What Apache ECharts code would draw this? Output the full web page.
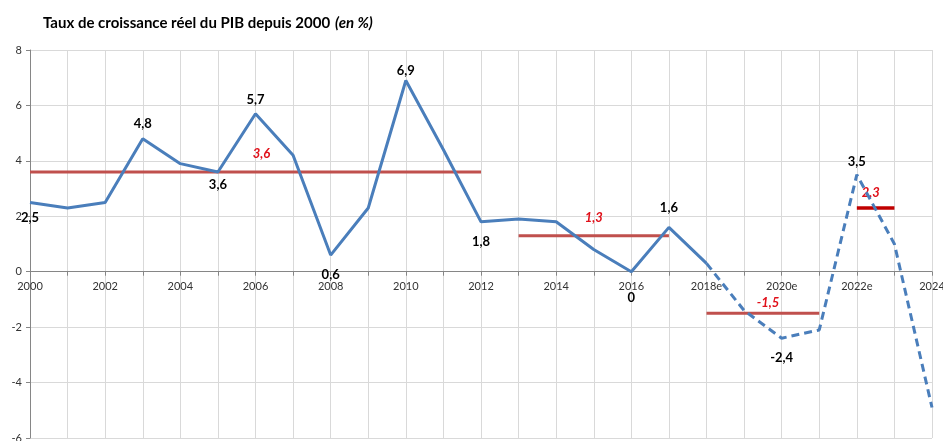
<!DOCTYPE html>
<html>
<head>
<meta charset="utf-8">
<script src="https://cdn.jsdelivr.net/npm/echarts@6/dist/echarts.min.js"></script>
<style>
  html, body { margin: 0; padding: 0; background: #fff; }
  #chart { width: 943px; height: 441px; }
</style>
</head>
<body>
<div id="chart"></div>
<script>
// Years on the category axis (estimates flagged with "e")
const years = ['2000','2001','2002','2003','2004','2005','2006','2007','2008','2009',
  '2010','2011','2012','2013','2014','2015','2016','2017','2018e','2019e',
  '2020e','2021e','2022e','2023e','2024'];

// Real GDP growth, %
const growth = [2.5, 2.3, 2.5, 4.8, 3.9, 3.6, 5.7, 4.2, 0.6, 2.3,
  6.9, 4.4, 1.8, 1.9, 1.8, 0.8, 0, 1.6, 0.3, -1.4,
  -2.4, -2.1, 3.5, 1.0, -4.9];

// Value axis range
const yMin = -6, yMax = 8, yStep = 2;

// Last year of the observed (solid) part; later years are drawn dashed
const lastActualIndex = 18;

// Period averages
const avgValues = [3.6, 1.3, -1.5, 2.3];
const avgStartIndex = [0, 13, 18, 22];
const avgEndIndex = [12, 17, 21, 23];

// Which points carry a value label, and where
const pointLabels = {
  0:  { position: 'bottom', distance: 8 },
  3:  { position: 'top', distance: 8 },
  5:  { position: 'bottom', distance: 6 },
  6:  { position: 'top', distance: 7 },
  8:  { position: 'bottom', distance: 13 },
  10: { position: 'top', distance: 3 },
  12: { position: 'bottom', distance: 13 },
  16: { position: 'bottom', distance: 19 },
  17: { position: 'top', distance: 13 },
  20: { position: 'bottom', distance: 13 },
  22: { position: 'top', distance: 6 }
};

// Placement of each average label relative to its segment
const avgLabelAt = [
  { index: 6, offset: [6, 0], distance: 11 },
  { index: 15, offset: [0, 0], distance: 11 },
  { index: 19, offset: [24, 0], distance: 3 },
  { index: 22, offset: [14, 0], distance: 8 }
];
const avgColors = ['#c0504d', '#c0504d', '#c0504d', '#c00000'];
const avgWidths = [3, 3, 3, 3.5];

const fmt = v => String(v).replace('.', ',');

const pointLabelStyle = {
  show: true,
  color: '#000',
  fontFamily: 'Lato',
  fontWeight: 'bold',
  fontSize: 13,
  formatter: p => fmt(p.value)
};

// Transparent markers: they only carry the labels
const hiddenSymbol = {
  showSymbol: true,
  symbol: 'circle',
  symbolSize: 1,
  itemStyle: { color: 'rgba(0,0,0,0)', borderWidth: 0 }
};

function buildLine(from, to) {
  return growth.map((v, i) => {
    if (i < from || i > to) return null;
    const cfg = pointLabels[i];
    if (!cfg) return v;
    if (i === lastActualIndex && from === lastActualIndex) return v;
    return { value: v, label: Object.assign({}, pointLabelStyle, cfg) };
  });
}

const series = [
  Object.assign({
    type: 'line',
    data: buildLine(0, lastActualIndex),
    lineStyle: { color: '#4a7ebb', width: 3 },
    z: 3
  }, hiddenSymbol),
  Object.assign({
    type: 'line',
    data: buildLine(lastActualIndex, growth.length - 1),
    lineStyle: { color: '#4a7ebb', width: 3, type: [8, 5] },
    z: 3
  }, hiddenSymbol)
];

avgValues.forEach((avg, k) => {
  const lab = avgLabelAt[k];
  const data = years.map((_, i) => {
    if (i < avgStartIndex[k] || i > avgEndIndex[k]) return null;
    if (i === lab.index) {
      return {
        value: avg,
        label: {
          show: true,
          position: 'top',
          distance: lab.distance,
          offset: lab.offset,
          color: '#e0101a',
          fontFamily: 'Lato',
          fontWeight: 'bold',
          fontStyle: 'italic',
          fontSize: 13,
          formatter: p => fmt(p.value)
        }
      };
    }
    return avg;
  });
  series.push(Object.assign({
    type: 'line',
    data: data,
    lineStyle: { color: avgColors[k], width: avgWidths[k] },
    z: 2
  }, hiddenSymbol));
});

const W = 943, H = 441;
const grid = { left: 30, right: 11, top: 50, bottom: 3 };
// The category axis sits on the zero line of the value axis
const plotH = H - grid.top - grid.bottom;
const zeroFromBottom = plotH * (0 - yMin) / (yMax - yMin);

const chart = echarts.init(document.getElementById('chart'), null, { renderer: 'canvas' });
chart.setOption({
  animation: false,
  backgroundColor: '#fff',
  tooltip: { show: false },
  title: {
    left: 38,
    top: 9,
    text: '{b|Taux de croissance réel du PIB depuis 2000} {i|(en %)}',
    textStyle: {
      rich: {
        b: { fontFamily: 'Lato', fontWeight: 'bold', fontSize: 15, color: '#000' },
        i: { fontFamily: 'Lato', fontStyle: 'italic', fontSize: 15, color: '#000' }
      }
    }
  },
  grid: Object.assign({ containLabel: false, outerBoundsMode: 'none' }, grid),
  xAxis: {
    type: 'category',
    data: years,
    boundaryGap: false,
    offset: -zeroFromBottom,
    axisLine: { onZero: false, lineStyle: { color: '#868686', width: 1 } },
    axisTick: { show: true, interval: 0, length: 4, lineStyle: { color: '#868686' } },
    axisLabel: {
      interval: 1,
      color: '#333',
      fontFamily: 'Lato',
      fontSize: 11,
      margin: 9
    },
    splitLine: { show: true, interval: 0, lineStyle: { color: '#d9d9d9', width: 1 } }
  },
  yAxis: {
    type: 'value',
    min: yMin,
    max: yMax,
    interval: yStep,
    axisLine: { show: true, lineStyle: { color: '#868686' } },
    axisTick: { show: true, length: 4, lineStyle: { color: '#868686' } },
    axisLabel: { color: '#333', fontFamily: 'Lato', fontSize: 11, margin: 8 },
    splitLine: { show: true, lineStyle: { color: '#d9d9d9', width: 1 } }
  },
  series: series
});
</script>
</body>
</html>
